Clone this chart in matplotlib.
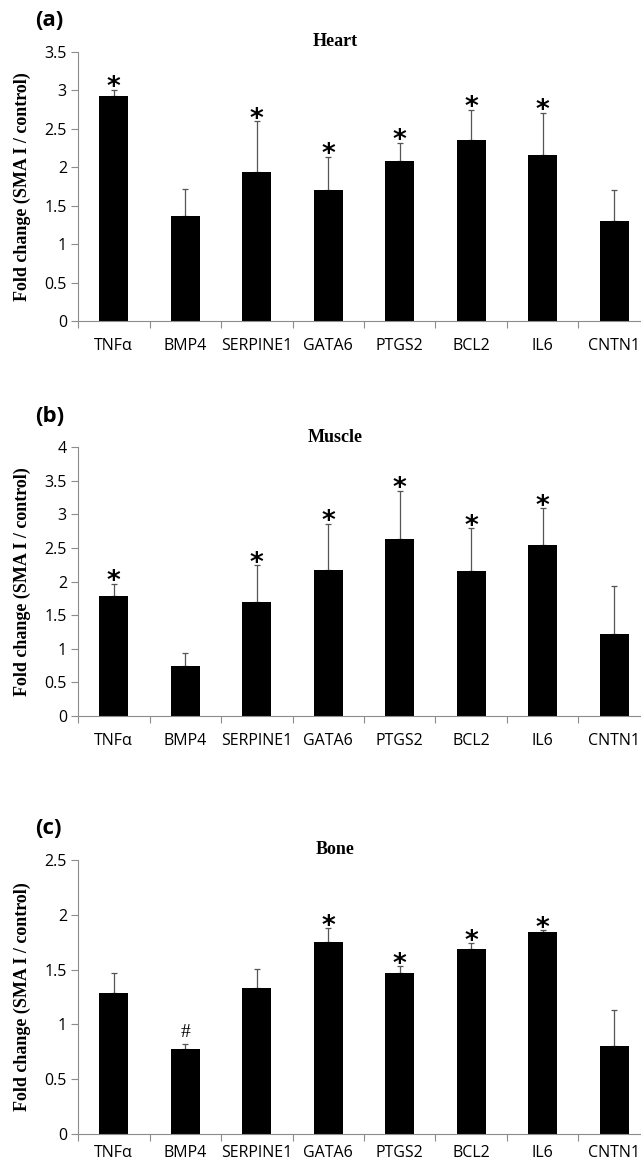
#!/usr/bin/env python3
import numpy as np

import matplotlib
matplotlib.use('Agg')
import matplotlib.pyplot as plt

GENES = ['TNFα', 'BMP4', 'SERPINE1', 'GATA6', 'PTGS2', 'BCL2', 'IL6', 'CNTN1']

HEART_MEAN = [2.93, 1.37, 1.94, 1.70, 2.08, 2.36, 2.16, 1.30]
HEART_ERR = [0.08, 0.35, 0.66, 0.44, 0.24, 0.39, 0.55, 0.41]
HEART_MARK = ['*', '', '*', '*', '*', '*', '*', '']

MUSCLE_MEAN = [1.78, 0.75, 1.69, 2.17, 2.63, 2.15, 2.54, 1.22]
MUSCLE_ERR = [0.19, 0.19, 0.55, 0.69, 0.72, 0.64, 0.55, 0.71]
MUSCLE_MARK = ['*', '', '*', '*', '*', '*', '*', '']

BONE_MEAN = [1.29, 0.78, 1.33, 1.75, 1.47, 1.69, 1.84, 0.80]
BONE_ERR = [0.18, 0.04, 0.18, 0.13, 0.06, 0.05, 0.02, 0.33]
BONE_MARK = ['', '#', '', '*', '*', '*', '*', '']

TICK_FONT = 'Open Sans'
SERIF = 'Liberation Serif'
GREY = '#8c8c8c'

W, H = 641, 1164
AX_LEFT = 78
CAT_W = 71.5


def _add_panel(fig, top, bottom, letter, title, mean, err, marks, ymax, pad=12):
    ax = fig.add_axes([AX_LEFT / W, 1 - bottom / H, 8 * CAT_W / W, (bottom - top) / H])
    x = np.arange(len(GENES))

    ax.bar(x, mean, width=0.41, color='black', zorder=2)
    ax.errorbar(x, mean, yerr=[np.zeros(len(err)), err], fmt='none',
                ecolor='#555555', elinewidth=0.9, capsize=2.2, capthick=0.9, zorder=1)

    for xi, m, e, mk in zip(x, mean, err, marks):
        if mk == '*':
            ax.annotate('*', (xi, m + e), xytext=(0, -4), textcoords='offset points',
                        ha='center', va='baseline', fontsize=19, fontweight='bold',
                        family='DejaVu Sans')
        elif mk == '#':
            ax.annotate('#', (xi, m + e), xytext=(0, 2), textcoords='offset points',
                        ha='center', va='bottom', fontsize=14, family=SERIF)

    ax.set_xlim(-0.5, 7.5)
    ax.set_ylim(0, ymax)
    yt = np.arange(0, ymax + 0.01, 0.5)
    ax.set_yticks(yt)
    ax.set_yticklabels([f'{v:g}' for v in yt], family=TICK_FONT, fontsize=11.5)

    # labels in the middle, tick marks on the category borders
    ax.set_xticks(x)
    ax.set_xticklabels(GENES, family=TICK_FONT, fontsize=11.5)
    ax.set_xticks(np.arange(-0.5, 8, 1), minor=True)
    ax.tick_params(axis='x', which='major', length=0, pad=pad)
    ax.tick_params(axis='x', which='minor', length=5, color=GREY, width=0.8)
    ax.tick_params(axis='y', length=5, color=GREY, width=0.8, pad=3)

    for s in ['top', 'right']:
        ax.spines[s].set_visible(False)
    for s in ['left', 'bottom']:
        ax.spines[s].set_color(GREY)
        ax.spines[s].set_linewidth(0.8)

    ax.set_ylabel('Fold change (SMA I / control)', family=SERIF, fontweight='bold',
                  fontsize=13)
    ax.yaxis.set_label_coords((31 - AX_LEFT) / (8 * CAT_W), 0.5)

    fig.text(335 / W, 1 - (top - 10) / H, title, ha='center', va='center',
             family=SERIF, fontweight='bold', fontsize=13)
    fig.text(35 / W, 1 - (top - 31) / H, letter, ha='left', va='center',
             family=TICK_FONT, fontweight='bold', fontsize=16)
    return ax


def main():
    fig = plt.figure(figsize=(W / 100, H / 100), dpi=100)

    _add_panel(fig, 52, 321, '(a)', 'Heart', HEART_MEAN, HEART_ERR, HEART_MARK, 3.5)
    _add_panel(fig, 447, 716, '(b)', 'Muscle', MUSCLE_MEAN, MUSCLE_ERR, MUSCLE_MARK, 4.0)
    _add_panel(fig, 860, 1134, '(c)', 'Bone', BONE_MEAN, BONE_ERR, BONE_MARK, 2.5, pad=8)

    fig.savefig('out.png', dpi=100)
    plt.close('all')


if __name__ == '__main__':
    main()
